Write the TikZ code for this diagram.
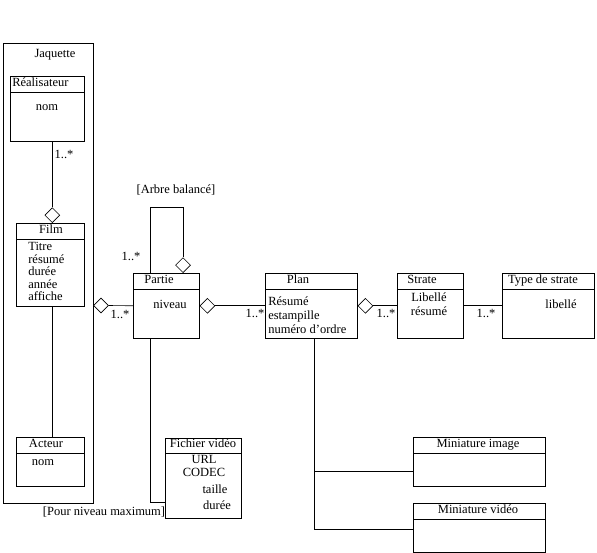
\documentclass[tikz,border=0pt]{standalone}
\usepackage{fontspec}
\setmainfont{Liberation Serif}
\usetikzlibrary{shapes.geometric}
\tikzset{classbox/.style = {draw, rectangle, inner sep = 0, anchor = north west}}
\tikzset{aggr/.style = {draw, diamond, fill = white, inner sep = 0, minimum width = 15pt, minimum height = 15pt}}
\tikzset{lbl/.style = {inner sep = 0, text height = 8pt, text depth = 2.5pt, font = \fontsize{12.5}{13}\selectfont}}

\begin{document}
\begin{tikzpicture}[x=1pt, y=-1pt, line width=0.6pt]
    \useasboundingbox (0, 0) rectangle (597, 553);

    % Jaquette and its classes
    \node [classbox, minimum width = 90pt, minimum height = 460pt] (jaq) at (3, 43) {};
    \node [lbl] (jaqname) at (55, 55) {Jaquette};

    \node [classbox, minimum width = 74pt, minimum height = 65pt] (real) at (10, 76) {};
    \node [lbl, anchor = west] (realname) at (12, 84) {Réalisateur};
    \node [lbl] (realnom) at (47, 108) {nom};

    \node [classbox, minimum width = 68pt, minimum height = 83pt] (film) at (16, 223) {};
    \node [lbl] (filmname) at (51, 231) {Film};
    \foreach \t [count = \i] in {Titre, résumé, durée, année, affiche}
      \node [lbl, anchor = west] (filmattr\i) at (28, 235.5 + 12.5 * \i) {\t};

    \node [classbox, minimum width = 68pt, minimum height = 49pt] (acteur) at (16, 437) {};
    \node [lbl] (acteurname) at (46, 445) {Acteur};
    \node [lbl] (acteurnom) at (43, 463) {nom};

    \node [aggr, anchor = south] (d1) at ([xshift = 2pt]film.north) {};
    \draw (d1.north) -- (d1.north |- real.south);
    \draw ([xshift = 2pt]film.south) -- ([xshift = 2pt]film.south |- acteur.north);
    \node [lbl] (m1) at (64, 156) {1..*};

    % Partie
    \node [classbox, minimum width = 66pt, minimum height = 65pt] (partie) at (133, 273) {};
    \node [lbl] (partiename) at (159, 281) {Partie};
    \node [lbl] (partieniv) at (170, 306) {niveau};

    \node [aggr] (d2) at (101, 305.5) {};
    \draw (d2.east) -- (partie.west);
    \node [lbl] (m2) at (120, 316) {1..*};

    \node [aggr, anchor = south] (d3) at ([xshift = 50pt]partie.north west) {};
    \draw ([xshift = 17pt]partie.north west) -- ++(0, -66) -| (d3.north);
    \node [lbl] (m3) at (131, 258) {1..*};
    \node [lbl] (arbre) at (176, 191) {[Arbre balancé]};

    % Plan, Strate, Type de strate
    \node [classbox, minimum width = 92pt, minimum height = 65pt] (plan) at (265, 273) {};
    \node [lbl] (planname) at (298, 281) {Plan};
    \node [lbl, anchor = west] (planattr1) at (268, 303) {Résumé};
    \node [lbl, anchor = west] (planattr2) at (268, 317) {estampille};
    \node [lbl, anchor = west] (planattr3) at (268, 331) {numéro d'ordre};

    \node [aggr, anchor = west] (d4) at (partie.east) {};
    \draw (d4.east) -- (plan.west);
    \node [lbl] (m4) at (255, 315) {1..*};

    \node [classbox, minimum width = 66pt, minimum height = 65pt] (strate) at (397, 273) {};
    \node [lbl] (stratename) at (422, 281) {Strate};
    \node [lbl] (strateattr1) at (429, 299) {Libellé};
    \node [lbl] (strateattr2) at (429, 313) {résumé};

    \node [aggr, anchor = west] (d5) at (plan.east) {};
    \draw (d5.east) -- (strate.west);
    \node [lbl] (m5) at (386, 315) {1..*};

    \node [classbox, minimum width = 92pt, minimum height = 65pt] (type) at (502, 273) {};
    \node [lbl] (typename) at (543, 281) {Type de strate};
    \node [lbl] (typeattr) at (561, 306) {libellé};

    \draw (strate.east) -- (type.west);
    \node [lbl] (m6) at (486, 315) {1..*};

    % Fichier video
    \node [classbox, minimum width = 76pt, minimum height = 80pt] (fich) at (165, 438) {};
    \node [lbl] (fichname) at (203, 445) {Fichier vidéo};
    \node [lbl] (fichattr1) at (204, 461) {URL};
    \node [lbl] (fichattr2) at (204, 474) {CODEC};
    \node [lbl] (fichattr3) at (215, 491) {taille};
    \node [lbl] (fichattr4) at (217, 507) {durée};

    \draw ([xshift = 17pt]partie.south west) |- ([yshift = 16pt]fich.south west);
    \node [lbl] (maxniv) at (104, 513) {[Pour niveau maximum]};

    % Miniatures
    \node [classbox, minimum width = 132pt, minimum height = 49pt] (miniimg) at (413, 437) {};
    \node [lbl] (miniimgname) at (478, 445) {Miniature image};
    \node [classbox, minimum width = 132pt, minimum height = 49pt] (minivid) at (413, 503) {};
    \node [lbl] (minividname) at (478, 511) {Miniature vidéo};

    \draw ([xshift = 49pt]plan.south west) |- ([yshift = -1.5pt]minivid.west);
    \draw ([xshift = 49pt]plan.south west |- miniimg.west) ++(0, 9.5) -- ([yshift = -9.5pt]miniimg.west);

    % header lines
    \foreach \c in {real, film, acteur, partie, plan, strate, type, miniimg, minivid}
      \draw ([yshift = -16pt]\c.north west) -- ([yshift = -16pt]\c.north east);
    \draw ([yshift = -15pt]fich.north west) -- ([yshift = -15pt]fich.north east);
\end{tikzpicture}
\end{document}
